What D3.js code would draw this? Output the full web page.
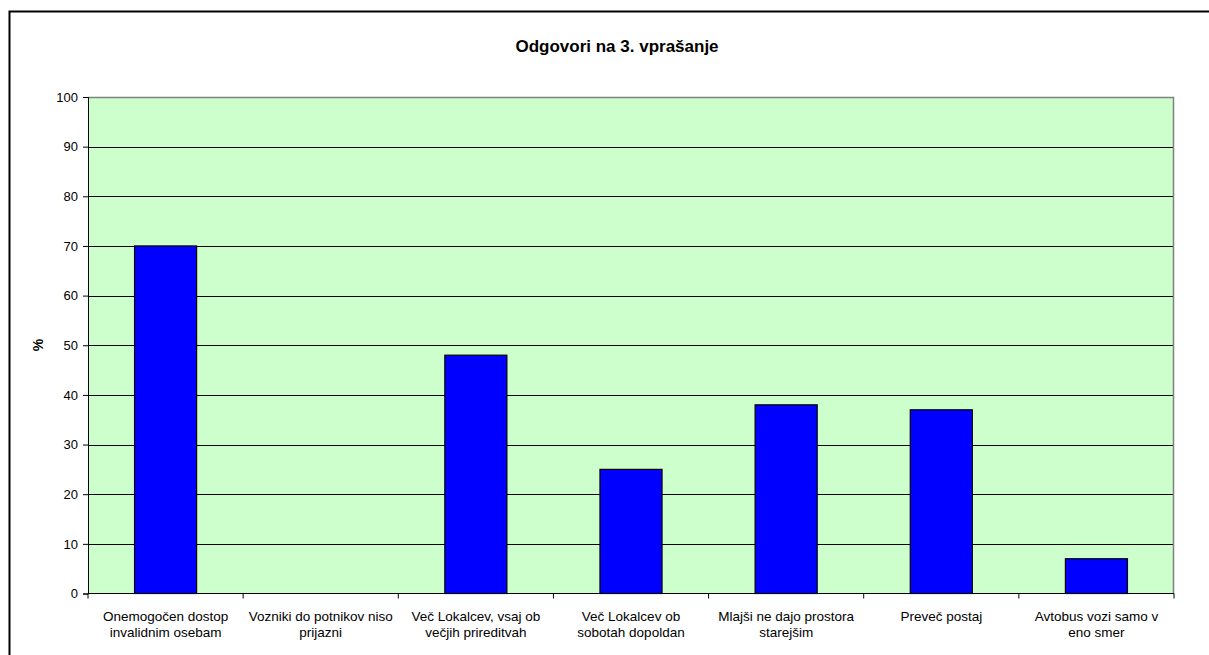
<!DOCTYPE html>
<html><head><meta charset="utf-8">
<script src="https://cdn.jsdelivr.net/npm/d3@7"></script>
<style>body{margin:0;background:#fff;} svg{display:block;} text{font-family:"Liberation Sans",Arial,sans-serif;fill:#000;}</style>
</head><body>
<svg id="c" width="1209" height="655"></svg>
<script>
const categories = [
  ["Onemogočen dostop", "invalidnim osebam"],
  ["Vozniki do potnikov niso", "prijazni"],
  ["Več Lokalcev, vsaj ob", "večjih prireditvah"],
  ["Več Lokalcev ob", "sobotah dopoldan"],
  ["Mlajši ne dajo prostora", "starejšim"],
  ["Preveč postaj"],
  ["Avtobus vozi samo v", "eno smer"]
];
const values = [70, 0, 48, 25, 38, 37, 7];
const yTicks = [0,10,20,30,40,50,60,70,80,90,100];
const title = "Odgovori na 3. vprašanje";
const yLabel = "%";

const svg = d3.select("#c");
svg.append("rect").attr("x",9.5).attr("y",11.5).attr("width",1220).attr("height",660)
  .attr("fill","#fff").attr("stroke","#000").attr("stroke-width",2);

const L=88, R=1174, T=97, B=593.5;
const x = d3.scaleBand().domain(d3.range(categories.length)).range([L,R]).paddingInner(0.6).paddingOuter(0.3);
const xb = d3.scaleBand().domain(d3.range(categories.length)).range([L,R]);
const y = d3.scaleLinear().domain([0,100]).range([B,T]);

svg.append("rect").attr("x",L).attr("y",T).attr("width",R-L).attr("height",B-T).attr("fill","#ccffcc");

svg.append("g").selectAll("line").data(yTicks.filter(d=>d>0&&d<100)).join("line")
  .attr("x1",L).attr("x2",R).attr("y1",d=>Math.round(y(d))+0.5).attr("y2",d=>Math.round(y(d))+0.5)
  .attr("stroke","#000").attr("stroke-width",1);

svg.append("path").attr("d",`M${L},${T+0.5}H${R-0.5}V${B}`).attr("fill","none").attr("stroke","#808080").attr("stroke-width",1.5);

svg.append("g").selectAll("rect").data(values).join("rect")
  .attr("x",(d,i)=>x(i)).attr("width",x.bandwidth())
  .attr("y",d=>y(d)).attr("height",d=>B-y(d))
  .attr("fill","#0000ff").attr("stroke","#000").attr("stroke-width",1.2)
  .attr("display",d=>d>0?null:"none");

const ya = svg.append("g").attr("transform",`translate(${L},0)`)
  .call(d3.axisLeft(y).tickValues(yTicks).tickSize(5).tickPadding(5).tickFormat(d3.format("d")));
ya.select(".domain").attr("stroke","#000");
ya.selectAll("line").attr("stroke","#000");
ya.selectAll("text").attr("font-size","13px").attr("font-family","Liberation Sans, Arial, sans-serif");

const xa = svg.append("g").attr("transform",`translate(0,${B})`);
xa.append("line").attr("x1",L).attr("x2",R).attr("y1",0).attr("y2",0).attr("stroke","#000");
xa.selectAll("line.t").data(d3.range(categories.length+1)).join("line").attr("class","t")
  .attr("x1",i=>L+i*xb.step()).attr("x2",i=>L+i*xb.step()).attr("y1",0).attr("y2",5).attr("stroke","#000");
xa.selectAll("text").data(categories).join("text")
  .attr("x",(d,i)=>xb(i)+xb.bandwidth()/2).attr("y",27).attr("text-anchor","middle").attr("font-size","13.5px")
  .each(function(d){
    const t=d3.select(this);
    d.forEach((s,k)=>t.append("tspan").attr("x",t.attr("x")).attr("dy",k?"16.5px":0).text(s));
  });

svg.append("text").attr("x",617).attr("y",52).attr("text-anchor","middle").attr("font-size","17px").attr("font-weight","bold").text(title);
svg.append("text").attr("transform","translate(43,345) rotate(-90)").attr("text-anchor","middle").attr("font-size","14px").attr("font-weight","bold").text(yLabel);
</script>
</body></html>
